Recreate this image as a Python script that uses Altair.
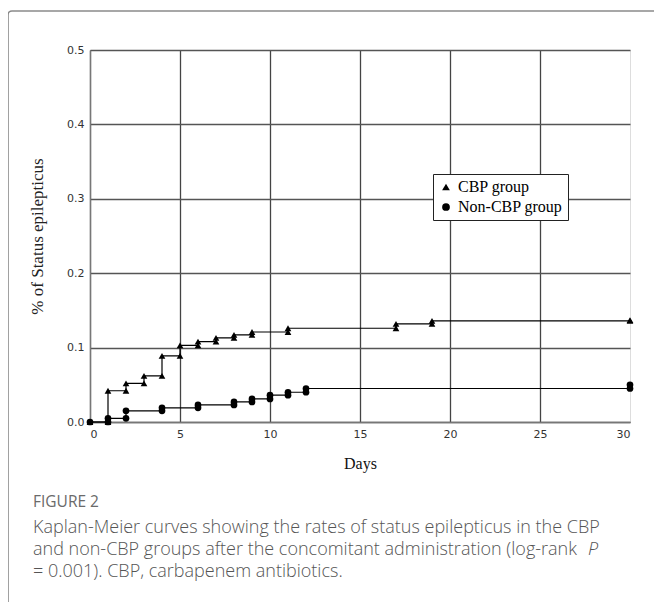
import altair as alt
import pandas as pd

# ---- data ----
cbp_days = [0, 1, 2, 3, 4, 5, 6, 7, 8, 9, 11, 17, 19, 30]
cbp_rate = [0, 0.042, 0.052, 0.062, 0.089, 0.103, 0.108, 0.113, 0.117, 0.121, 0.126, 0.132, 0.136, 0.137]
non_days = [0, 1, 2, 4, 6, 8, 9, 10, 11, 12, 30]
non_rate = [0, 0.005, 0.015, 0.019, 0.023, 0.027, 0.031, 0.036, 0.040, 0.045, 0.050]
groups = ["CBP group", "Non-CBP group"]
x_ticks = [0, 5, 10, 15, 20, 25, 30]
y_ticks = [0.0, 0.1, 0.2, 0.3, 0.4, 0.5]

caption_head = "FIGURE 2"
caption_lines = [
    "Kaplan-Meier curves showing the rates of status epilepticus in the CBP",
    "and non-CBP groups after the concomitant administration (log-rank",
    "= 0.001). CBP, carbapenem antibiotics.",
]
caption_italic = "P"

# ---- build tables ----
line_rows, pt_rows = [], []
for g, days, rate in [(groups[0], cbp_days, cbp_rate), (groups[1], non_days, non_rate)]:
    for d, r in zip(days, rate):
        line_rows.append({"group": g, "day": d, "rate": r})
    pt_rows.append({"group": g, "day": days[0], "rate": rate[0]})
    for i in range(1, len(days)):
        pt_rows.append({"group": g, "day": days[i], "rate": rate[i - 1]})
        pt_rows.append({"group": g, "day": days[i], "rate": rate[i]})
lines_df = pd.DataFrame(line_rows)
pts_df = pd.DataFrame(pt_rows)

W, H = 540, 372
SERIF = "Liberation Serif"
SANS = "Open Sans"
TICKF = "DejaVu Sans"

xscale = alt.Scale(domain=[0, 30], nice=False)
yscale = alt.Scale(domain=[0, 0.5], nice=False)

xaxis = alt.Axis(
    values=x_ticks, title="Days", titleFont=SERIF, titleFontSize=16, titleFontWeight="normal",
    titleColor="#111", titlePadding=16, labelFont=TICKF, labelFontSize=11, labelColor="#333",
    labelPadding=6, ticks=False, domainColor="#777", domainWidth=1.3,
    grid=True, gridColor="#444", gridWidth=1.3,
    gridOpacity={"condition": {"test": "datum.value == 30", "value": 0}, "value": 1},
)
yaxis = alt.Axis(
    values=y_ticks, format=".1f", title="% of Status epilepticus", titleFont=SERIF, titleFontSize=17,
    titleFontWeight="normal", titleColor="#222", titlePadding=20, labelFont=TICKF, labelFontSize=11,
    labelColor="#333", labelPadding=6, ticks=False, domainColor="#777", domainWidth=1.3,
    grid=True, gridColor="#555", gridWidth=1.3,
)

steps = alt.Chart(lines_df).mark_line(interpolate="step-after", color="black", strokeWidth=1.2).encode(
    x=alt.X("day:Q", scale=xscale, axis=xaxis),
    y=alt.Y("rate:Q", scale=yscale, axis=yaxis),
    detail="group:N",
)

points = alt.Chart(pts_df).mark_point(filled=True, color="black", opacity=1, size=45).encode(
    x=alt.X("day:Q", scale=xscale),
    y=alt.Y("rate:Q", scale=yscale),
    shape=alt.Shape(
        "group:N",
        scale=alt.Scale(domain=groups, range=["triangle-up", "circle"]),
        legend=alt.Legend(
            orient="none", legendX=343, legendY=124, title=None, labelFont=SERIF, labelFontSize=16,
            labelColor="black", fillColor="white", strokeColor="#222", padding=5, rowPadding=4,
            symbolSize=60, symbolFillColor="black", symbolStrokeColor="black", labelOffset=4,
            symbolOffset=0, cornerRadius=0,
        ),
    ),
)

frame = alt.Chart(pd.DataFrame({"k": [0]})).mark_rect(
    fill="transparent", stroke="#8a8a8a", strokeWidth=1.6, cornerRadius=4, clip=False
).encode(x=alt.value(-82), x2=alt.value(800), y=alt.value(-39), y2=alt.value(800))

texts = []
texts.append(
    alt.Chart(pd.DataFrame({"t": [caption_head]})).mark_text(
        align="left", baseline="middle", font=SANS, fontSize=15.5, color="#6a6a6a", fontWeight="normal"
    ).encode(x=alt.value(-57), y=alt.value(452), text="t:N")
)
for i, line in enumerate(caption_lines):
    texts.append(
        alt.Chart(pd.DataFrame({"t": [line]})).mark_text(
            align="left", baseline="middle", font=SANS, fontSize=18, color="#555", fontWeight=300
        ).encode(x=alt.value(-57), y=alt.value(478 + 22 * i), text="t:N")
    )
texts.append(
    alt.Chart(pd.DataFrame({"t": [caption_italic]})).mark_text(
        align="left", baseline="middle", font=SANS, fontSize=18, color="#555", fontStyle="italic", fontWeight=300
    ).encode(x=alt.value(498), y=alt.value(500), text="t:N")
)

chart = alt.layer(frame, steps, points, *texts).properties(
    width=W, height=H,
    autosize=alt.AutoSizeParams(type="none"),
    padding={"left": 82, "top": 42, "right": 24, "bottom": 180},
).configure_view(stroke=None).configure(background="white")

chart.save("out.html", embed_options={"renderer": "svg", "actions": False})
